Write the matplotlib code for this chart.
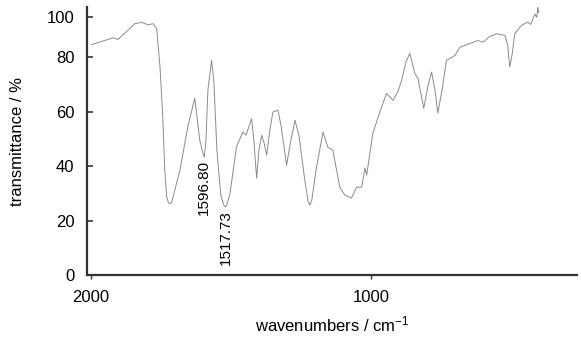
import numpy as np
import matplotlib.pyplot as plt

plt.rcParams['font.family'] = ['Liberation Sans', 'DejaVu Sans']
plt.rcParams['mathtext.default'] = 'regular'

# IR spectrum (wavenumber / cm-1, transmittance / %)
wavenumber = [1998, 1921, 1903, 1843, 1819, 1796, 1778, 1765, 1753, 1744,
              1736, 1729, 1723, 1718, 1712, 1707, 1682, 1653, 1629, 1611, 1600, 1595,
              1589, 1582, 1569, 1561, 1550, 1536, 1526, 1520, 1514, 1503, 1480, 1457,
              1446, 1426, 1418, 1408, 1400, 1390, 1382, 1372, 1361, 1350,
              1332, 1321, 1301, 1289, 1271, 1257, 1236, 1224, 1218, 1211, 1196, 1171,
              1154, 1136, 1111, 1093, 1069, 1051, 1033, 1021, 1015, 993,
              968, 944, 921, 904, 890, 875, 861, 843, 832, 811,
              796, 783, 771, 761, 746, 730, 700, 682, 646, 618,
              600, 575, 551, 521, 511, 504, 496, 486, 462, 439,
              429, 414, 407, 404, 400]
transmittance = [84.7, 87.2, 86.6, 92.4, 92.9, 92.0, 92.4, 90.6, 76.3, 59.5,
                 38.5, 28.5, 26.6, 26.2, 26.6, 28.5, 38.5, 55.0, 65.0, 49.5, 44.8, 43.3,
                 49.5, 68.0, 78.9, 71.6, 45.9, 29.4, 25.8, 25.0, 25.8, 30.1, 47.1, 52.6,
                 51.4, 57.5, 49.5, 35.6, 45.9, 51.4, 48.8, 44.0, 53.2, 59.9,
                 60.6, 55.0, 40.4, 47.7, 56.9, 51.4, 34.9, 27.0, 25.7, 27.5, 38.5, 52.6,
                 47.0, 45.9, 32.3, 29.4, 28.3, 32.3, 32.3, 39.3, 36.7, 52.1,
                 59.9, 66.8, 64.2, 67.3, 71.6, 78.2, 81.5, 74.1, 72.3, 61.3,
                 69.7, 74.6, 67.9, 59.5, 67.9, 78.9, 80.7, 83.8, 85.1, 86.2,
                 85.6, 87.7, 88.7, 88.1, 84.4, 76.4, 80.7, 88.7, 91.8, 93.0,
                 92.1, 96.0, 94.7, 98.5, 96.5]

peak_pos = [1596.80, 1517.73]
peak_val = [43.3, 25.0]
peak_text = ['1596.80', '1517.73']

ytick_pos = [0, 20, 40, 60, 80, 95]
ytick_lab = ['0', '20', '40', '60', '80', '100']

fig = plt.figure(figsize=(5.81, 3.38), dpi=100)
ax = fig.add_axes([0.1497, 0.1864, 0.8433, 0.7926])

ax.plot(wavenumber, transmittance, color='#8a8a8a', lw=0.7)

for x, y, t in zip(peak_pos, peak_val, peak_text):
    ax.annotate(t, (x, y), xytext=(0, -2), textcoords='offset points',
                rotation=90, ha='center', va='top', fontsize=11)

ax.set_xlim(2014, 264)
ax.set_ylim(0, 98.5)
ax.set_xticks([2000, 1000])
ax.set_yticks(ytick_pos)
ax.set_yticklabels(ytick_lab)

for s in ['top', 'right']:
    ax.spines[s].set_visible(False)
for s in ['left', 'bottom']:
    ax.spines[s].set_linewidth(1.6)
    ax.spines[s].set_color('#333333')

ax.tick_params(axis='y', direction='in', length=4, width=1.2, pad=9,
               labelsize=12, color='#333333')
ax.tick_params(axis='x', direction='out', length=3, width=1.0, pad=8,
               labelsize=12, color='#333333')

ax.set_xlabel('wavenumbers / cm$^{-1}$', fontsize=12, labelpad=7)
ax.set_ylabel('transmittance / %', fontsize=12, labelpad=16)

fig.savefig('out.png', dpi=100)
